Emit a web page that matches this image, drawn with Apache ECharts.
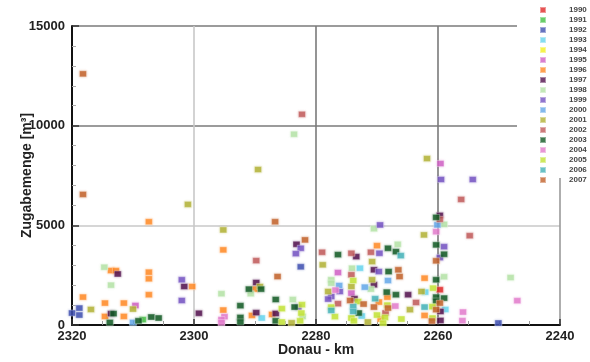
<!DOCTYPE html>
<html>
<head>
<meta charset="utf-8">
<script src="https://cdn.jsdelivr.net/npm/echarts@6/dist/echarts.min.js"></script>
<style>
  html, body { margin: 0; padding: 0; background: #fff; }
  #chart { width: 590px; height: 362px; }
</style>
</head>
<body>
<div id="chart"></div>
<script>
// Gravel additions per river kilometre, one list of [km, m³] pairs per year
const years = ['1990','1991','1992','1993','1994','1995','1996','1997','1998','1999',
               '2000','2001','2002','2003','2004','2005','2006','2007'];

const y1990 = [[2259.7, 1770]];
const y1991 = [[2308.4, 270]];
const y1992 = [[2320, 600], [2318.8, 850], [2318.8, 500], [2282.5, 2920], [2250.1, 100]];
const y1993 = [[2272.8, 2850], [2258.8, 780], [2288.9, 350], [2262.1, 1650], [2272.5, 450]];
const y1994 = [];
const y1995 = [[2309.6, 980], [2276.4, 2630], [2274.2, 1600], [2259.6, 8100]];
const y1996 = [[2318.2, 1400], [2313.6, 2730], [2312.8, 2730], [2314.6, 1100], [2311.5, 1100],
               [2314.6, 430], [2311.5, 430], [2307.4, 2650], [2307.4, 2320], [2307.4, 1520],
               [2307.4, 5180], [2300.3, 1930], [2295.2, 3770], [2295.2, 750], [2290, 1800],
               [2290.5, 480], [2287.2, 530], [2270, 3980], [2269.7, 1150], [2268.3, 1400],
               [2262.2, 2350], [2262.2, 480], [2269.4, 300]];
const y1997 = [[2312.5, 2560], [2313.6, 570], [2301.6, 1930], [2299.2, 590], [2283.2, 4050],
               [2289.8, 2130], [2289.8, 620], [2286.6, 580], [2273.4, 3430], [2273.7, 1320],
               [2270.5, 2770], [2270.5, 2020], [2264.9, 1520], [2259.7, 5500], [2259.6, 680],
               [2259.6, 230]];
const y1998 = [[2314.7, 2900], [2313.6, 2000], [2295.5, 1570], [2290.7, 1570], [2283.8, 1280],
               [2282.2, 430], [2283.6, 9570], [2277.5, 2270], [2277.5, 2100], [2274.1, 2850],
               [2270.5, 4830], [2266.6, 4050], [2259, 5050], [2259, 2420], [2248.1, 2380],
               [2271, 1800]];
const y1999 = [[2302, 2270], [2302, 1230], [2282.5, 3850], [2283.3, 3580], [2282.9, 900],
               [2277.5, 1430], [2278, 1300], [2276.1, 1680], [2269.6, 3600], [2269.7, 2680],
               [2269.5, 5020], [2259.5, 7300], [2254.3, 7300], [2259, 3930], [2259.7, 3380]];
const y2000 = [[2310, 130], [2276.2, 1980], [2268.2, 2230], [2260.1, 5020], [2272, 1900]];
const y2001 = [[2316.9, 780], [2310, 800], [2301, 6050], [2295.2, 4770], [2289.2, 1930],
               [2289.5, 7800], [2284, 110], [2278.9, 3020], [2278, 1680], [2274.2, 1930],
               [2270.8, 3180], [2270.8, 2270], [2261.8, 8350], [2262.3, 4520], [2262.7, 1680],
               [2264.6, 770], [2271.5, 150]];
const y2002 = [[2289.8, 3230], [2282.3, 10570], [2279, 3650], [2274.2, 3600], [2274.2, 2520],
               [2276.4, 1070], [2271, 3650], [2256.2, 6300], [2259.7, 5300], [2254.8, 4480],
               [2263.6, 1130], [2268.6, 600]];
const y2003 = [[2313.8, 130], [2313.2, 570], [2309.1, 210], [2307, 400], [2305.8, 350],
               [2291, 1800], [2289, 1800], [2292.4, 970], [2292.4, 380], [2292.4, 150],
               [2286.6, 1280], [2286.6, 210], [2283.5, 900], [2276.4, 3530], [2273, 600],
               [2268.2, 3850], [2268.1, 2680], [2266.9, 3680], [2266.9, 1520], [2260.3, 5400],
               [2260.3, 4020], [2259, 3550], [2260.3, 2270], [2260.3, 1400], [2260.3, 1200],
               [2259, 1350], [2268.4, 1650]];
const y2004 = [[2295, 420], [2295.5, 270], [2295.5, 120], [2260.3, 4680], [2255.9, 650],
               [2256, 220], [2247, 1220], [2267, 950], [2276.8, 1750]];
const y2005 = [[2285.6, 820], [2285.6, 150], [2282.3, 1020], [2282.4, 600], [2282.6, 210],
               [2277.5, 900], [2273.9, 2230], [2273.1, 1180], [2274.2, 350], [2273.8, 210],
               [2268.7, 380], [2260.8, 1850], [2260.9, 920], [2260.9, 350], [2270, 500],
               [2269, 100], [2266, 300], [2268.3, 1000], [2276.9, 420]];
const y2006 = [[2277.5, 730], [2273.9, 930], [2273.9, 680], [2270.3, 1320], [2266.1, 3480],
               [2262.2, 900]];
const y2007 = [[2318.2, 12600], [2318.2, 6550], [2286.3, 2430], [2281.8, 4270], [2286.7, 5180],
               [2274.4, 1230], [2270.5, 900], [2268.2, 850], [2266.5, 2770], [2266.3, 2430],
               [2260.3, 3220], [2259.7, 1100], [2260.3, 770], [2261, 200], [2272.2, 1050]];

const yearData = [y1990, y1991, y1992, y1993, y1994, y1995, y1996, y1997, y1998, y1999,
                  y2000, y2001, y2002, y2003, y2004, y2005, y2006, y2007];

const yearColors = ['#e02828', '#44c044', '#4050b0', '#66d4ee', '#f2f020', '#d060c4',
                    '#ff8a26', '#52124e', '#b4e2a6', '#7452c2', '#64a8e8', '#b2b236',
                    '#c05a5a', '#125a24', '#e27ccc', '#c2e236', '#44b2b8', '#c2622a'];

const xTicks = { min: 2240, max: 2320, step: 20 };
const yTicks = { min: 0, max: 15000, step: 5000 };

const chart = echarts.init(document.getElementById('chart'), null, { renderer: 'canvas' });

const font = '"Liberation Sans", Arial, sans-serif';

chart.setOption({
  animation: false,
  backgroundColor: '#fff',
  grid: { left: 72, right: 30, top: 26, bottom: 35 },
  // white panel behind the year key
  graphic: [{
    type: 'rect',
    left: 517, top: 0, z: 3,
    shape: { width: 73, height: 178 },
    style: { fill: '#fff' },
    silent: true
  }],
  legend: {
    orient: 'vertical',
    left: 517,
    top: 5,
    padding: [0, 4, 0, 22],
    z: 5,
    icon: 'rect',
    itemWidth: 6,
    itemHeight: 6,
    itemGap: 0,
    data: years,
    textStyle: {
      fontFamily: font,
      fontWeight: 'bold',
      fontSize: 8,
      lineHeight: 10,
      color: '#444',
      padding: [0, 0, 0, 18]
    }
  },
  xAxis: {
    type: 'value',
    inverse: true,
    min: xTicks.min,
    max: xTicks.max,
    interval: xTicks.step,
    name: 'Donau - km',
    nameLocation: 'middle',
    nameGap: 18,
    nameMoveOverlap: false,
    nameTextStyle: { fontFamily: font, fontWeight: 'bold', fontSize: 14, color: '#222' },
    axisLine: { show: true, onZero: false, lineStyle: { color: '#111', width: 2 } },
    axisTick: { show: true, inside: true, length: 6, lineStyle: { color: '#333', width: 1.5 } },
    minorTick: { show: true, splitNumber: 4, length: 4, lineStyle: { color: '#999', width: 1 } },
    axisLabel: {
      fontFamily: font, fontWeight: 'bold', fontSize: 13, color: '#222', margin: 5,
      formatter: v => String(v)
    },
    splitLine: {
      show: true,
      lineStyle: { color: ['#9a9a9a', '#7a7a7a', '#7a7a7a', '#c8c8c8', '#111'], width: 1.6 }
    }
  },
  yAxis: {
    type: 'value',
    min: yTicks.min,
    max: yTicks.max,
    interval: yTicks.step,
    name: 'Zugabemenge [m³]',
    nameLocation: 'middle',
    nameGap: 38,
    nameRotate: 90,
    nameMoveOverlap: false,
    nameTextStyle: { fontFamily: font, fontWeight: 'bold', fontSize: 14, color: '#222' },
    axisLine: { show: true, lineStyle: { color: '#111', width: 2 } },
    axisTick: { show: true, inside: true, length: 7, lineStyle: { color: '#333', width: 1.5 } },
    minorTick: { show: true, splitNumber: 5, length: 4, lineStyle: { color: '#aaa', width: 1 } },
    axisLabel: {
      fontFamily: font, fontWeight: 'bold', fontSize: 13, color: '#222', margin: 7,
      formatter: v => String(v)
    },
    splitLine: {
      show: true,
      lineStyle: { color: ['#111', '#c8c8c8', '#7a7a7a', '#7a7a7a'], width: 1.6 }
    }
  },
  series: years.map((yr, i) => ({
    name: yr,
    type: 'scatter',
    symbol: 'rect',
    symbolSize: [7, 6],
    data: yearData[i],
    itemStyle: {
      color: yearColors[i],
      borderColor: 'rgba(255,255,255,0.5)',
      borderWidth: 0.8,
      shadowBlur: 2,
      shadowColor: echarts.color.modifyAlpha(yearColors[i], 0.45)
    },
    emphasis: { disabled: true }
  }))
});
</script>
</body>
</html>
